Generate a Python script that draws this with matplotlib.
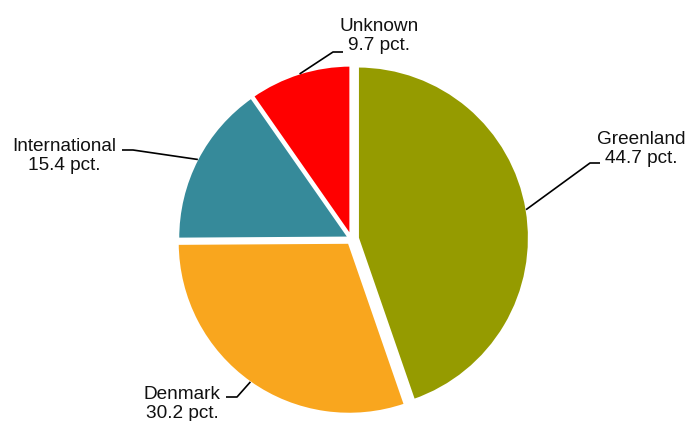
import numpy as np
import matplotlib.pyplot as plt

plt.rcParams["font.family"] = ["Liberation Sans", "DejaVu Sans"]

labels = ["Greenland", "Denmark", "International", "Unknown"]
shares = [44.7, 30.2, 15.4, 9.7]
colors = ["#959B00", "#F9A61E", "#368A9A", "#FF0000"]
# explode offsets in pixels (pie's explode is in data units here)
explode = [6, 4, 2, 2]

# label block centre and elbow of the leader line (pixel coords, y from top)
label_pos = [(641, 149), (182, 404), (64, 156), (379, 36)]
elbows = [((590, 163), (600, 163)), ((237, 397), (226, 397)),
          ((133, 150), (122, 150)), ((333, 52), (343, 52))]

W, H = 687, 421
CX, CY, R = 351.5, H - 239, 172

fig = plt.figure(figsize=(W / 100, H / 100), dpi=100)
ax = fig.add_axes([0, 0, 1, 1])

wedges, _ = ax.pie(shares, colors=colors, explode=explode, startangle=90,
                   counterclock=False, center=(CX, CY), radius=R,
                   wedgeprops=dict(edgecolor="white", linewidth=2.2))
ax.set_xlim(0, W)
ax.set_ylim(0, H)
ax.set_aspect("auto")
ax.axis("off")

for w, lab, val, (tx, ty), (e1, e2), ex in zip(wedges, labels, shares, label_pos, elbows, explode):
    mid = np.deg2rad((w.theta1 + w.theta2) / 2)
    rr = R - 1 + ex
    sx, sy = CX + rr * np.cos(mid), CY + rr * np.sin(mid)
    ax.plot([sx, e1[0], e2[0]], [sy, H - e1[1], H - e2[1]], color="black", lw=1.2,
            solid_capstyle="butt")
    ax.text(tx, H - ty, f"{lab}\n{val} pct.", ha="center", va="center",
            fontsize=13.7, linespacing=1.18, color="#111111")

fig.savefig("out.png", dpi=100)
